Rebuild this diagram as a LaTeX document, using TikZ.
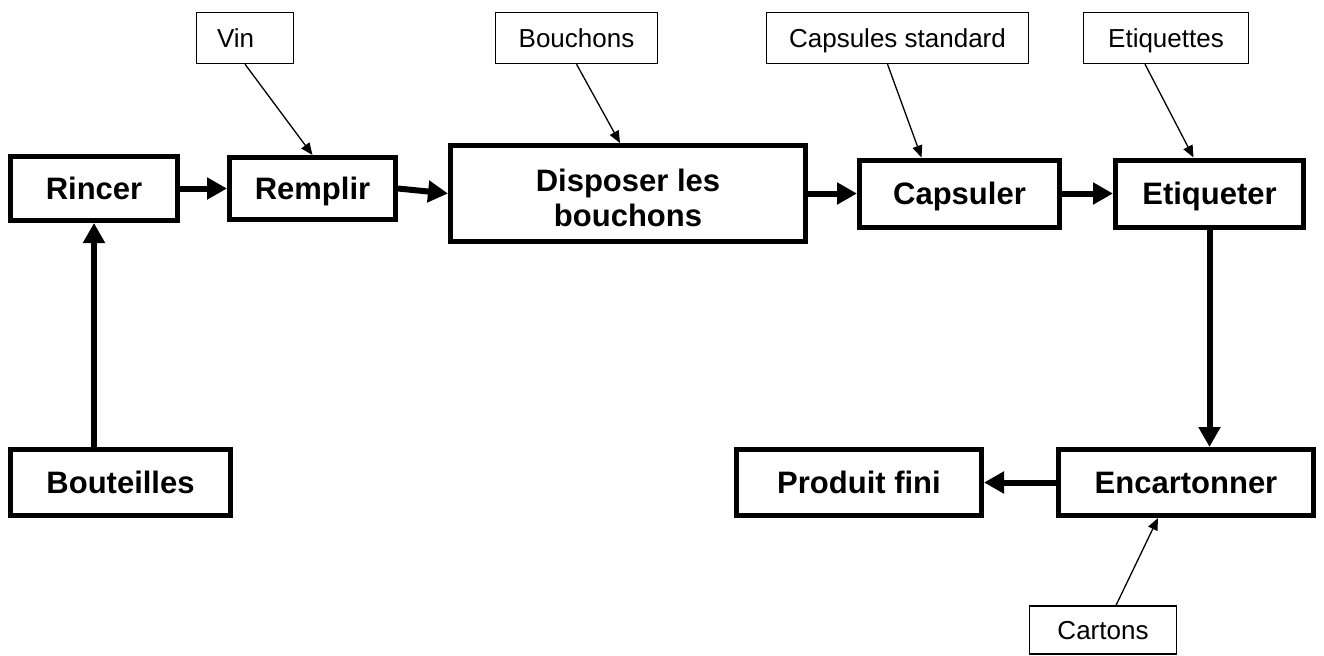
\documentclass[tikz,border=0pt]{standalone}
\usepackage{fontspec}
\setmainfont{Liberation Sans}
\usetikzlibrary{positioning,arrows.meta}
\tikzset{
    procede/.style={rectangle, draw, line width=2.5pt, inner sep=0pt, align=center, text height=11.1pt, text depth=0pt, font=\fontsize{15.5pt}{17.5pt}\selectfont\bfseries},
    intrant/.style={rectangle, draw, line width=0.65pt, inner sep=0pt, minimum height=25.5pt, text height=9.3pt, text depth=0pt, font=\fontsize{13pt}{15pt}\selectfont},
    flux/.style={-{Triangle[length=10pt,width=10.5pt]}, line width=3pt},
    apport/.style={-{Triangle[length=6pt,width=5pt]}, line width=0.65pt}
}

\begin{document}
\begin{tikzpicture}[x=0.5pt, y=-0.5pt]
\useasboundingbox (0,0) rectangle (1324,655);

% chaine principale
\node[procede, minimum width=83.5pt, minimum height=32pt] (rincer) at (94,188.5) {Rincer};
\node[procede, minimum width=83pt, minimum height=31pt, right=23.5pt of rincer] (remplir) {Remplir};
\node[procede, minimum width=177.5pt, minimum height=48pt, text height=32.6pt, right=25pt of remplir, yshift=-2.5pt] (disposer) {Disposer les\\bouchons};
\node[procede, minimum width=100pt, minimum height=33.5pt, right=24.5pt of disposer] (capsuler) {Capsuler};
\node[procede, minimum width=94pt, minimum height=33.5pt, right=25.5pt of capsuler] (etiqueter) {Etiqueter};

\node[procede, minimum width=110pt, minimum height=33pt] (bouteilles) at (120.5,482.5) {Bouteilles};
\node[procede, minimum width=127.5pt, minimum height=33pt] (encartonner) at (1186,482.5) {Encartonner};
\node[procede, minimum width=122.5pt, minimum height=33pt, left=36pt of encartonner] (produit) {Produit fini};

% intrants
\node[intrant, minimum width=48.5pt, text width=28pt, align=left] (vin) at (245,38) {Vin};
\node[intrant, minimum width=81pt] (bouchons) at (576.5,38) {Bouchons};
\node[intrant, minimum width=131pt] (capsules) at (897.5,38) {Capsules standard};
\node[intrant, minimum width=82.5pt] (etiquettes) at (1166,38) {Etiquettes};
\node[intrant, minimum width=73.5pt, minimum height=24pt] (cartons) at (1103,630) {Cartons};

\draw[flux] (rincer.south |- bouteilles.north) -- (rincer.south);
\draw[flux] (rincer) -- (remplir);
\draw[flux] (remplir.east) -- (disposer.west);
\draw[flux] (disposer) -- (capsuler);
\draw[flux] (capsuler) -- (etiqueter);
\draw[flux] (etiqueter.south) -- (etiqueter.south |- encartonner.north);
\draw[flux] (encartonner) -- (produit);

\draw[apport] (vin.south) -- (remplir.north);
\draw[apport] (bouchons.south) -- ([xshift=-4pt]disposer.north);
\draw[apport] ([xshift=-5pt]capsules.south) -- ([xshift=-19pt]capsuler.north);
\draw[apport] ([xshift=-10.5pt]etiquettes.south) -- ([xshift=-8pt]etiqueter.north);
\draw[apport] ([xshift=6.5pt]cartons.north) -- ([xshift=-14pt]encartonner.south);

\end{tikzpicture}
\end{document}
